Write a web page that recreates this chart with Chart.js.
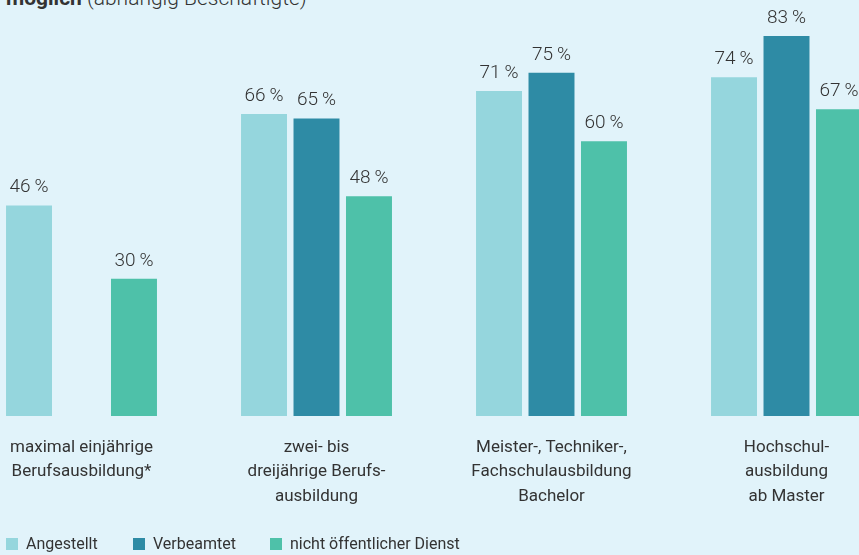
<!DOCTYPE html>
<html><head><meta charset="utf-8">
<script src="https://cdn.jsdelivr.net/npm/chart.js@4/dist/chart.umd.min.js"></script>
<style>
html,body{margin:0;padding:0;background:#e1f3fa;overflow:hidden;width:859px;height:555px;font-family:Roboto,'Open Sans',sans-serif;}
#wrap{position:absolute;left:-36px;top:0;width:940px;height:555px;}
#title{position:absolute;left:6px;top:-14px;font-size:21px;color:#333;white-space:nowrap;font-weight:300;}
#title b{font-weight:700;}
#legend{position:absolute;left:6px;top:534px;font-size:16px;color:#333;}
.li{position:absolute;top:0;white-space:nowrap;}
.sw{display:inline-block;width:12px;height:12px;vertical-align:-1px;margin-right:8px;}
</style></head><body>
<div id="title"><b>möglich</b> (abhängig Beschäftigte)</div>
<div id="wrap"><canvas id="c" width="940" height="555"></canvas></div>
<div id="legend"></div>
<script>
const categories = [
  ["maximal einjährige","Berufsausbildung*"],
  ["zwei- bis","dreijährige Berufs-","ausbildung"],
  ["Meister-, Techniker-,","Fachschulausbildung","Bachelor"],
  ["Hochschul-","ausbildung","ab Master"]
];
const seriesNames = ["Angestellt","Verbeamtet","nicht öffentlicher Dienst"];
const angestellt = [46, 66, 71, 74];
const verbeamtet = [null, 65, 75, 83];
const nichtOeffentlich = [30, 48, 60, 67];
const colors = ["#95d6dd","#2e8ba5","#4ec1a9"];

const legendPos = [0, 127, 264];
const leg = document.getElementById('legend');
seriesNames.forEach((n,i)=>{
  const d=document.createElement('div');d.className='li';d.style.left=legendPos[i]+'px';
  d.innerHTML='<span class="sw" style="background:'+colors[i]+'"></span>'+n;
  leg.appendChild(d);
});

const valueLabels = {
  id:'valueLabels',
  afterDatasetsDraw(chart){
    const ctx=chart.ctx;
    ctx.save();
    ctx.font='300 19px Roboto';
    ctx.fillStyle='#333';
    ctx.textAlign='center';
    ctx.textBaseline='alphabetic';
    chart.data.datasets.forEach((ds,di)=>{
      chart.getDatasetMeta(di).data.forEach((bar,i)=>{
        const v=ds.data[i];
        if(v==null) return;
        ctx.fillText(v+'\u2009%', bar.x, bar.y-13);
      });
    });
    ctx.restore();
  }
};

new Chart(document.getElementById('c'),{
  type:'bar',
  data:{
    labels:categories,
    datasets:[
      {label:seriesNames[0],data:angestellt,backgroundColor:colors[0]},
      {label:seriesNames[1],data:verbeamtet,backgroundColor:colors[1]},
      {label:seriesNames[2],data:nichtOeffentlich,backgroundColor:colors[2]}
    ]
  },
  options:{
    responsive:false,animation:false,
    categoryPercentage:0.67,barPercentage:0.876,
    layout:{padding:{top:4,bottom:35,left:0,right:0}},
    plugins:{legend:{display:false},tooltip:{enabled:false}},
    scales:{
      x:{grid:{display:false},border:{display:false},
         ticks:{color:'#333',font:{family:'Roboto',size:17,weight:400,lineHeight:1.45},padding:11,maxRotation:0,autoSkip:false}},
      y:{display:false,min:0,max:90}
    }
  },
  plugins:[valueLabels]
});
</script>
</body></html>
